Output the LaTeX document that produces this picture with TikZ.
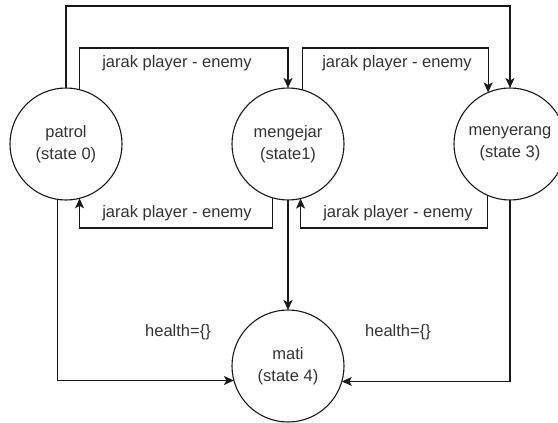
\documentclass[tikz,border=0pt]{standalone}
\usepackage{fontspec}
\setmainfont{Liberation Sans}
\usetikzlibrary{arrows.meta}

\tikzset{
  state/.style={circle, draw=black!90, line width=1.1pt, minimum size=112pt,
    inner sep=0pt, outer sep=0pt, align=center, text=black!80,
    font=\fontsize{16.5}{21.5}\selectfont},
  lbl/.style={text=black!80, inner sep=0pt, font=\fontsize{16.5}{20}\selectfont},
  arr/.style={draw=black!90, line width=1.1pt,
    -{Stealth[length=10pt,width=9pt,inset=2.5pt]}},
}

\begin{document}
\begin{tikzpicture}[x=1pt, y=-1pt]
  \useasboundingbox (0,0) rectangle (558,423);
  \clip (0,0) rectangle (558,423);

  % states
  \node[state] (patrol)    at (66,144)  {patrol\\(state 0)};
  \node[state] (mengejar)  at (288,144) {mengejar\\(state1)};
  \node[state] (menyerang) at (510,144) {menyerang\\(state 3)};
  \node[state] (mati)      at (288,366) {mati\\(state 4)};

  % routing levels
  \coordinate (outer) at (0,6);
  \coordinate (upper) at (0,48);
  \coordinate (lower) at (0,228);

  % transitions over the top
  \draw[arr] (patrol.north) -- (patrol.north |- outer) -| (menyerang.north);
  \draw[arr] (patrol.76.6) -- (patrol.76.6 |- upper) -| (mengejar.north);
  \draw[arr] (mengejar.75.5) -- (mengejar.75.5 |- upper) -| (menyerang.113.1);

  % transitions back underneath
  \draw[arr] (mengejar.254.5) -- (mengejar.254.5 |- lower) -| (patrol.284.5);
  \draw[arr] (menyerang.246.9) -- (menyerang.246.9 |- lower) -| (mengejar.283.4);

  % transitions to the dead state
  \draw[arr] (mengejar.south) -- (mati.north);
  \draw[arr] (patrol.261.8) |- (mati.195.5);
  \draw[arr] (menyerang.south) |- (mati.344.5);

  % transition labels
  \node[lbl] (l1) at (177,63)  {jarak player - enemy};
  \node[lbl] (l2) at (397,63)  {jarak player - enemy};
  \node[lbl] (l3) at (177,213) {jarak player - enemy};
  \node[lbl] (l4) at (398,213) {jarak player - enemy};
  \node[lbl] (h1) at (178,332) {health=\{\}};
  \node[lbl] (h2) at (398,332) {health=\{\}};
\end{tikzpicture}
\end{document}
